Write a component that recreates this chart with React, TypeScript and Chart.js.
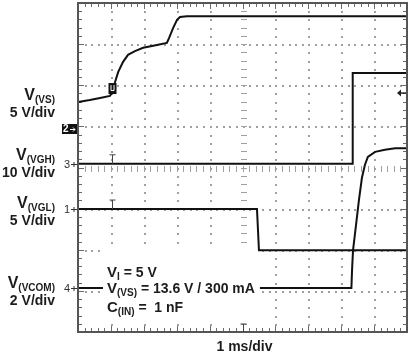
import React, { useEffect, useRef } from "react";
import { Chart, registerables } from "chart.js";

Chart.register(...registerables);

const W = 411;
const H = 353;
const FONT = '"Liberation Sans", Arial, Helvetica, sans-serif';

// Screen grid: 10 horizontal divisions (1 ms/div), 8 vertical divisions
const X_DIVS = 10;
const Y_DIVS = 8;

// Channel 2: V(VS), 5 V/div (levels in screen divisions)
const vsTime = [0, 0.36, 0.67, 0.97, 1.03, 1.06, 1.12, 1.22, 1.37, 1.52, 1.73, 1.98, 2.4, 2.7, 2.77, 2.89, 3.01, 3.1, 3.31, 10];
const vsLevel = [5.59, 5.64, 5.69, 5.74, 5.81, 5.93, 6.06, 6.32, 6.57, 6.74, 6.83, 6.91, 6.98, 7.03, 7.15, 7.39, 7.59, 7.66, 7.68, 7.68];

// Channel 3: V(VGH), 10 V/div
const vghTime = [0, 8.33, 8.35, 10];
const vghLevel = [4.09, 4.09, 6.3, 6.3];

// Channel 1: V(VGL), 5 V/div
const vglTime = [0, 5.44, 5.5, 10];
const vglLevel = [2.99, 2.99, 1.99, 1.99];

// Channel 4: V(VCOM), 2 V/div (hidden behind the annotation box in the middle)
const vcomTime = [0, 0.76, 0.77, 5.53, 8.31, 8.33, 8.36, 8.45, 8.54, 8.63, 8.72, 8.81, 9.03, 9.33, 9.64, 10];
const vcomLevel = [1.07, 1.07, null, 1.07, 1.07, 1.51, 1.99, 2.6, 3.21, 3.75, 4.06, 4.26, 4.38, 4.43, 4.47, 4.47];

// Channel ground markers (divisions)
const channelNames = ["2", "3", "1", "4"];
const channelZero = [4.93, 4.09, 2.99, 1.07];

// Trigger
const triggerTime = 1.03;
const triggerLevel = 5.81;

// Left labels
const labelMain = ["V", "V", "V", "V"];
const labelSub = ["(VS)", "(VGH)", "(VGL)", "(VCOM)"];
const labelScale = ["5 V/div", "10 V/div", "5 V/div", "2 V/div"];
const labelBaseline = [100, 160, 208, 288];

const timeLabel = "1 ms/div";

type Part = [string, number, number];

function drawParts(ctx: CanvasRenderingContext2D, parts: Part[], x: number, y: number, align: "left" | "right" | "center") {
  let w = 0;
  for (const [t, s] of parts) {
    ctx.font = `bold ${s}px ${FONT}`;
    w += ctx.measureText(t).width;
  }
  let cx = align === "right" ? x - w : align === "center" ? x - w / 2 : x;
  ctx.textAlign = "left";
  ctx.textBaseline = "alphabetic";
  for (const [t, s, dy] of parts) {
    ctx.font = `bold ${s}px ${FONT}`;
    ctx.fillText(t, cx, y + dy);
    cx += ctx.measureText(t).width;
  }
}

const scopePlugin = {
  id: "scope",
  beforeDatasetsDraw(chart: any) {
    const ctx: CanvasRenderingContext2D = chart.ctx;
    const { left, right, top, bottom } = chart.chartArea;
    const sx = chart.scales.x;
    const sy = chart.scales.y;
    ctx.save();
    ctx.fillStyle = "#ffffff";
    ctx.fillRect(left, top, right - left, bottom - top);
    // dotted vertical grid lines
    ctx.fillStyle = "#a0a0a0";
    for (let i = 1; i < X_DIVS; i++) {
      const px = Math.round(sx.getPixelForValue(i));
      for (let k = 1; k < Y_DIVS * 5; k++) {
        const py = Math.round(sy.getPixelForValue(k / 5));
        if (i === X_DIVS / 2) ctx.fillRect(px - 2, py, 6, 1);
        else ctx.fillRect(px, py, 2, 2);
      }
    }
    // dotted horizontal grid lines
    for (let j = 1; j < Y_DIVS; j++) {
      const py = Math.round(sy.getPixelForValue(j));
      for (let k = 1; k < X_DIVS * 5; k++) {
        const px = Math.round(sx.getPixelForValue(k / 5));
        if (j === Y_DIVS / 2) ctx.fillRect(px, py - 2, 1, 6);
        else ctx.fillRect(px, py, 2, 2);
      }
    }
    // white box behind the annotation text
    ctx.fillStyle = "#ffffff";
    ctx.fillRect(101, 246, 158, 76);
    // border ticks
    ctx.fillStyle = "#6a6a6a";
    for (let k = 1; k < X_DIVS * 5; k++) {
      const px = Math.round(sx.getPixelForValue(k / 5));
      const len = k % 5 === 0 ? 5 : 3;
      ctx.fillRect(px, top, 1, len + 1);
      ctx.fillRect(px, bottom - len - 1, 1, len + 1);
    }
    for (let k = 1; k < Y_DIVS * 5; k++) {
      const py = Math.round(sy.getPixelForValue(k / 5));
      const len = k % 5 === 0 ? 5 : 3;
      ctx.fillRect(left, py, len + 1, 1);
      ctx.fillRect(right - len - 1, py, len + 1, 1);
    }
    ctx.restore();
  },
  afterDatasetsDraw(chart: any) {
    const ctx: CanvasRenderingContext2D = chart.ctx;
    const { left, right, top, bottom } = chart.chartArea;
    const sx = chart.scales.x;
    const sy = chart.scales.y;
    ctx.save();
    // frame
    ctx.strokeStyle = "#555555";
    ctx.lineWidth = 2;
    ctx.strokeRect(left, top, right - left, bottom - top);

    // trigger position markers (T) on channels 3 and 1
    ctx.strokeStyle = "#444";
    ctx.lineWidth = 1;
    const tx = Math.round(sx.getPixelForValue(triggerTime)) + 0.5;
    for (const lvl of [vghLevel[0], vglLevel[0]]) {
      const py = sy.getPixelForValue(lvl);
      ctx.beginPath();
      ctx.moveTo(tx, py);
      ctx.lineTo(tx, py - 9);
      ctx.moveTo(tx - 3, py - 9);
      ctx.lineTo(tx + 3, py - 9);
      ctx.stroke();
    }
    // bottom-centre trigger tick
    const cx = Math.round(sx.getPixelForValue(X_DIVS / 2)) + 0.5;
    ctx.beginPath();
    ctx.moveTo(cx, bottom);
    ctx.lineTo(cx, bottom - 8);
    ctx.moveTo(cx - 3, bottom - 8);
    ctx.lineTo(cx + 3, bottom - 8);
    ctx.stroke();

    // trigger box on channel 2
    const ty = sy.getPixelForValue(triggerLevel);
    ctx.fillStyle = "#111";
    ctx.fillRect(tx - 4, ty - 10, 8, 11);
    ctx.strokeStyle = "#fff";
    ctx.beginPath();
    ctx.moveTo(tx - 1.5, ty - 8);
    ctx.lineTo(tx - 1.5, ty - 2.5);
    ctx.lineTo(tx + 1.5, ty - 2.5);
    ctx.lineTo(tx + 1.5, ty - 8);
    ctx.stroke();

    // trigger level arrow on right
    ctx.strokeStyle = "#222";
    ctx.fillStyle = "#222";
    ctx.lineWidth = 1.5;
    ctx.beginPath();
    ctx.moveTo(right - 8, ty);
    ctx.lineTo(right - 1, ty);
    ctx.stroke();
    ctx.beginPath();
    ctx.moveTo(right - 10, ty);
    ctx.lineTo(right - 6, ty - 3.5);
    ctx.lineTo(right - 6, ty + 3.5);
    ctx.closePath();
    ctx.fill();
    ctx.restore();
  },
  afterDraw(chart: any) {
    const ctx: CanvasRenderingContext2D = chart.ctx;
    const { left } = chart.chartArea;
    const sx = chart.scales.x;
    const sy = chart.scales.y;
    ctx.save();
    ctx.fillStyle = "#1c1c1c";
    // left labels
    for (let i = 0; i < labelMain.length; i++) {
      const b = labelBaseline[i];
      drawParts(ctx, [[labelMain[i], 16, 0], [labelSub[i], 10, 3]], 55, b, "right");
      drawParts(ctx, [[labelScale[i], 14, 0]], 55, b + 17, "right");
    }
    // annotation
    drawParts(ctx, [["V", 15, 0], ["I", 10, 3], [" = 5 V", 14, 0]], 107, 277, "left");
    drawParts(ctx, [["V", 15, 0], ["(VS)", 10, 3], [" = 13.6 V / 300 mA", 14, 0]], 107, 293, "left");
    drawParts(ctx, [["C", 15, 0], ["(IN)", 10, 3], [" =  1 nF", 14, 0]], 107, 312, "left");
    // time base
    drawParts(ctx, [[timeLabel, 14, 0]], sx.getPixelForValue(X_DIVS / 2) + 2, 351, "center");

    // channel markers
    for (let i = 0; i < channelNames.length; i++) {
      const py = Math.round(sy.getPixelForValue(channelZero[i]));
      if (i === 0) {
        ctx.fillStyle = "#111";
        ctx.fillRect(left - 16, py - 5, 15, 10);
        ctx.fillStyle = "#fff";
        ctx.font = `bold 10px ${FONT}`;
        ctx.textAlign = "left";
        ctx.textBaseline = "middle";
        ctx.fillText(channelNames[i], left - 15, py + 0.5);
        ctx.strokeStyle = "#fff";
        ctx.lineWidth = 1;
        ctx.beginPath();
        ctx.moveTo(left - 8, py + 0.5);
        ctx.lineTo(left - 3, py + 0.5);
        ctx.moveTo(left - 5, py - 1.5);
        ctx.lineTo(left - 3, py + 0.5);
        ctx.lineTo(left - 5, py + 2.5);
        ctx.stroke();
      } else {
        ctx.fillStyle = "#333";
        ctx.font = `11px ${FONT}`;
        ctx.textAlign = "left";
        ctx.textBaseline = "middle";
        ctx.fillText(channelNames[i], left - 14, py + 0.5);
        ctx.strokeStyle = "#333";
        ctx.lineWidth = 1;
        ctx.beginPath();
        ctx.moveTo(left - 7, py + 0.5);
        ctx.lineTo(left - 1, py + 0.5);
        ctx.moveTo(left - 4, py - 2);
        ctx.lineTo(left - 4, py + 3);
        ctx.stroke();
      }
    }
    ctx.restore();
  },
};

function series(t: number[], v: (number | null)[]) {
  return t.map((x, i) => ({ x, y: v[i] }));
}

export default function App() {
  const ref = useRef<HTMLCanvasElement>(null);
  useEffect(() => {
    const lineStyle = {
      borderColor: "#111111",
      borderWidth: 2,
      pointRadius: 0,
      tension: 0,
      spanGaps: false,
      fill: false,
    };
    const chart = new Chart(ref.current as HTMLCanvasElement, {
      type: "line",
      data: {
        datasets: [
          { label: "V(VS)", data: series(vsTime, vsLevel), ...lineStyle },
          { label: "V(VGH)", data: series(vghTime, vghLevel), ...lineStyle },
          { label: "V(VGL)", data: series(vglTime, vglLevel), ...lineStyle },
          { label: "V(VCOM)", data: series(vcomTime, vcomLevel), ...lineStyle },
        ] as any,
      },
      options: {
        responsive: false,
        devicePixelRatio: 1,
        animation: false,
        events: [],
        layout: { padding: { left: 78, top: 3, right: 4, bottom: 21 } },
        plugins: { legend: { display: false }, tooltip: { enabled: false } },
        scales: {
          x: { type: "linear", min: 0, max: X_DIVS, display: false },
          y: { type: "linear", min: 0, max: Y_DIVS, display: false },
        },
      },
      plugins: [scopePlugin],
    });
    return () => chart.destroy();
  }, []);
  return (
    <div style={{ position: "fixed", left: 0, top: 0, width: W, height: H, background: "#fff" }}>
      <canvas ref={ref} width={W} height={H} style={{ display: "block", width: W, height: H }} />
    </div>
  );
}
